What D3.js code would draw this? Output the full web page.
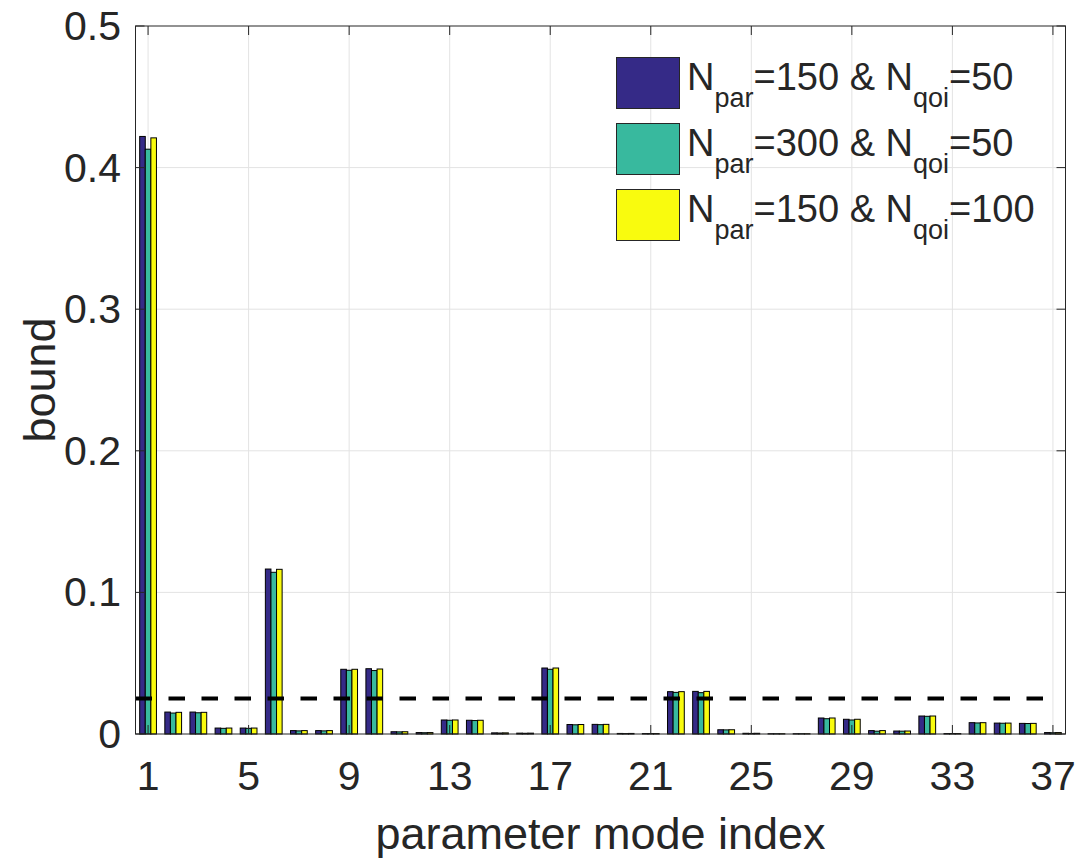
<!DOCTYPE html>
<html>
<head>
<meta charset="utf-8">
<script src="https://cdn.jsdelivr.net/npm/d3@7"></script>
<style>
  body { margin: 0; background: #fff; }
  text { font-family: "Liberation Sans", Arial, sans-serif; fill: #262626; }
</style>
</head>
<body>
<svg id="chart" width="1078" height="859"></svg>
<script>
// parameter mode indices
var modes = [1,2,3,4,5,6,7,8,9,10,11,12,13,14,15,16,17,18,19,20,21,22,23,24,25,26,27,28,29,30,31,32,33,34,35,36,37]
var xTicks = [1,5,9,13,17,21,25,29,33,37]
var yTicks = [0,0.1,0.2,0.3,0.4,0.5]
var threshold = 0.025

// bound values per series
var par150qoi50 = [0.422,0.0155,0.0155,0.0042,0.0042,0.1165,0.0024,0.0024,0.0457,0.0461,0.0016,0.0010,0.0099,0.0097,0.0008,0.0006,0.0466,0.0067,0.0068,0.0004,0.0003,0.0299,0.0301,0.0030,0.0005,0.0002,0.0002,0.0113,0.0104,0.0024,0.0021,0.0127,0.0003,0.0080,0.0077,0.0075,0.0010]
var par300qoi50 = [0.413,0.0148,0.0150,0.0040,0.0040,0.1142,0.0022,0.0022,0.0450,0.0448,0.0015,0.0009,0.0097,0.0095,0.0007,0.0005,0.0457,0.0065,0.0066,0.0003,0.0003,0.0294,0.0292,0.0029,0.0004,0.0002,0.0002,0.0108,0.0099,0.0020,0.0020,0.0125,0.0003,0.0078,0.0076,0.0074,0.0009]
var par150qoi100 = [0.421,0.0153,0.0153,0.0042,0.0042,0.1163,0.0024,0.0024,0.0457,0.0459,0.0016,0.0010,0.0099,0.0097,0.0008,0.0006,0.0466,0.0067,0.0068,0.0004,0.0003,0.0299,0.0301,0.0030,0.0005,0.0002,0.0002,0.0113,0.0104,0.0024,0.0021,0.0127,0.0003,0.0080,0.0077,0.0075,0.0010]

var seriesNames = [
  { par: '150', qoi: '50' },
  { par: '300', qoi: '50' },
  { par: '150', qoi: '100' }
]
var colors = ['#352a87', '#38b99e', '#f9fb0e']
var series = [par150qoi50, par300qoi50, par150qoi100]

var pl = 135.5, pr = 1065.5, pt = 26, pb = 734

var svg = d3.select('#chart')

var x = d3.scaleLinear().domain([0.5, 37.5]).range([pl, pr])
var y = d3.scaleLinear().domain([0, 0.5]).range([pb, pt])

var step = x(2) - x(1)
  , groupW = step * 2 / 3
  , barW = groupW / 3

// grid
var grid = svg.append('g')
grid.selectAll('line.gx').data(xTicks).enter().append('line')
  .attr('x1', function (d) { return x(d) }).attr('x2', function (d) { return x(d) })
  .attr('y1', pt).attr('y2', pb)
  .attr('stroke', '#e3e3e3').attr('stroke-width', 1)
grid.selectAll('line.gy').data(yTicks.slice(1, -1)).enter().append('line')
  .attr('y1', function (d) { return y(d) }).attr('y2', function (d) { return y(d) })
  .attr('x1', pl).attr('x2', pr)
  .attr('stroke', '#e3e3e3').attr('stroke-width', 1)

// bars
series.forEach(function (s, k) {
  svg.append('g').selectAll('rect').data(s).enter().append('rect')
    .attr('x', function (d, i) { return x(modes[i]) - groupW / 2 + k * barW })
    .attr('y', function (d) { return y(d) })
    .attr('width', barW)
    .attr('height', function (d) { return y(0) - y(d) })
    .attr('fill', colors[k])
    .attr('stroke', '#000').attr('stroke-width', 1)
})

// threshold line
svg.append('line')
  .attr('x1', x(0.5)).attr('x2', x(37))
  .attr('y1', y(threshold)).attr('y2', y(threshold))
  .attr('stroke', '#000').attr('stroke-width', 4)
  .attr('stroke-dasharray', '16.5,16.5')

// axes (box with inward ticks)
var tl = 9
var axisG = svg.append('g').attr('stroke', '#262626').attr('stroke-width', 1)
axisG.append('rect').attr('x', pl).attr('y', pt)
  .attr('width', pr - pl).attr('height', pb - pt).attr('fill', 'none')
xTicks.forEach(function (d) {
  axisG.append('line').attr('x1', x(d)).attr('x2', x(d)).attr('y1', pb).attr('y2', pb - tl)
  axisG.append('line').attr('x1', x(d)).attr('x2', x(d)).attr('y1', pt).attr('y2', pt + tl)
})
yTicks.forEach(function (d) {
  axisG.append('line').attr('y1', y(d)).attr('y2', y(d)).attr('x1', pl).attr('x2', pl + tl)
  axisG.append('line').attr('y1', y(d)).attr('y2', y(d)).attr('x1', pr).attr('x2', pr - tl)
})

svg.selectAll('text.xt').data(xTicks).enter().append('text')
  .attr('x', function (d) { return x(d) }).attr('y', 790)
  .attr('text-anchor', 'middle').attr('font-size', 41)
  .text(function (d) { return d })

svg.selectAll('text.yt').data(yTicks).enter().append('text')
  .attr('x', 121).attr('y', function (d) { return y(d) + 14 })
  .attr('text-anchor', 'end').attr('font-size', 41)
  .text(function (d) { return d === 0 ? '0' : d3.format('.1f')(d) })

svg.append('text').attr('x', (pl + pr) / 2).attr('y', 849)
  .attr('text-anchor', 'middle').attr('font-size', 45)
  .text('parameter mode index')

svg.append('text').attr('transform', 'translate(55,' + (pt + pb) / 2 + ') rotate(-90)')
  .attr('text-anchor', 'middle').attr('font-size', 45)
  .text('bound')

// legend
var leg = svg.append('g')
seriesNames.forEach(function (d, k) {
  var yy = 57 + k * 66
  leg.append('rect').attr('x', 616.5).attr('y', yy + 0.5).attr('width', 63).attr('height', 51)
    .attr('fill', colors[k]).attr('stroke', '#262626').attr('stroke-width', 1)
  var t = leg.append('text').attr('x', 687).attr('y', yy + 33).attr('font-size', 38)
  t.append('tspan').text('N')
  t.append('tspan').attr('dy', 17).attr('font-size', 27).text('par')
  t.append('tspan').attr('dy', -17).text('=' + d.par + ' & N')
  t.append('tspan').attr('dy', 17).attr('font-size', 27).text('qoi')
  t.append('tspan').attr('dy', -17).text('=' + d.qoi)
})
</script>
</body>
</html>
